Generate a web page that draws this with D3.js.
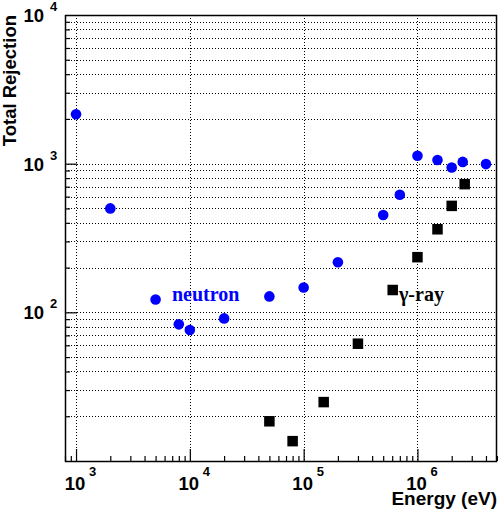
<!doctype html>
<html>
<head>
<meta charset="utf-8"/>
<title>Total Rejection vs Energy</title>
<script src="https://d3js.org/d3.v7.min.js"></script>
<style>
  body { margin: 0; background: #fff; }
  svg { display: block; }
</style>
</head>
<body>
<div id="chart"></div>
<script>
    // data
    var neutronE = [1e3, 2e3, 5e3, 8e3, 1e4, 2e4, 5e4, 1e5, 2e5, 5e5, 7e5, 1e6, 1.5e6, 2e6, 2.5e6, 4e6];
    var neutronR = [2150, 500, 122, 83, 76, 91, 128, 147, 217, 452, 618, 1130, 1058, 942, 1028, 993];
    var gammaE = [5e4, 8e4, 1.5e5, 3e5, 1e6, 1.5e6, 2e6, 2.6e6];
    var gammaR = [18.5, 13.6, 24.9, 61.5, 235, 362, 520, 728];
    var xDecades = [3, 4, 5, 6];
    var yDecades = [2, 3, 4];

    var W = 498, H = 509;
    var fLeft = 65, fTop = 15, fRight = 497, fBottom = 461;

    var svg = d3.select("#chart")
        .append("svg")
        .attr("width", W)
        .attr("height", H);

    var x = d3.scaleLog().domain([800, 5e6]).range([fLeft, fRight]);
    var y = d3.scaleLog().domain([10, 1e4]).range([fBottom, fTop]);

    // minor tick values
    var xTicks = [], yTicks = [];
    var d, k;
    for (d = 2; d <= 6; d++)
        for (k = 1; k <= 9; k++) {
            var v = k * Math.pow(10, d);
            if (v >= 800 && v <= 5e6) xTicks.push(v);
        }
    for (d = 1; d <= 3; d++)
        for (k = 1; k <= 9; k++) {
            var w = k * Math.pow(10, d);
            if (w > 10) yTicks.push(w);
        }

    function isDecade(v) {
        var l = Math.log10(v);
        return Math.abs(l - Math.round(l)) < 1e-6;
    }

    var gridStyle = function(sel) {
        sel.attr("stroke", "#000")
           .attr("stroke-width", 1)
           .attr("stroke-dasharray", "1,2")
           .attr("shape-rendering", "crispEdges");
    };

    // horizontal grid at every y tick
    svg.append("g").selectAll("line")
        .data(yTicks)
        .enter().append("line")
        .attr("x1", fLeft)
        .attr("x2", fRight)
        .attr("y1", function(v) { return Math.round(y(v)) + 0.5; })
        .attr("y2", function(v) { return Math.round(y(v)) + 0.5; })
        .call(gridStyle);

    // vertical grid at decades
    svg.append("g").selectAll("line")
        .data(xDecades)
        .enter().append("line")
        .attr("x1", function(e) { return Math.round(x(Math.pow(10, e))) + 0.5; })
        .attr("x2", function(e) { return Math.round(x(Math.pow(10, e))) + 0.5; })
        .attr("y1", fTop)
        .attr("y2", fBottom)
        .call(gridStyle);

    // axes with inward ticks
    var xAxis = d3.axisTop(x)
        .tickValues(xTicks)
        .tickSize(0)
        .tickFormat("");
    var gx = svg.append("g")
        .attr("transform", "translate(0," + fBottom + ")")
        .call(xAxis);
    gx.select(".domain").remove();
    gx.selectAll(".tick line")
        .attr("y2", function(v) { return isDecade(v) ? -12 : -5; })
        .attr("stroke", "#000")
        .attr("stroke-width", 1.2);

    var yAxis = d3.axisRight(y)
        .tickValues(yTicks)
        .tickSize(0)
        .tickFormat("");
    var gy = svg.append("g")
        .attr("transform", "translate(" + fLeft + ",0)")
        .call(yAxis);
    gy.select(".domain").remove();
    gy.selectAll(".tick line")
        .attr("x2", function(v) { return isDecade(v) ? 12 : 5; })
        .attr("stroke", "#000")
        .attr("stroke-width", 1.2);

    // frame
    svg.append("rect")
        .attr("x", fLeft + 0.5)
        .attr("y", fTop + 0.5)
        .attr("width", fRight - fLeft - 1)
        .attr("height", fBottom - fTop)
        .attr("fill", "none")
        .attr("stroke", "#000")
        .attr("stroke-width", 1.5);

    var labFont = "'Liberation Sans', Arial, sans-serif";

    // y tick labels 10^n
    yDecades.forEach(function(e) {
        var py = y(Math.pow(10, e));
        svg.append("text")
            .attr("x", 44).attr("y", py + 7)
            .attr("text-anchor", "end")
            .attr("font-family", labFont).attr("font-weight", "bold")
            .attr("font-size", 18.5)
            .text("10");
        svg.append("text")
            .attr("x", 50).attr("y", py - 4)
            .attr("font-family", labFont).attr("font-weight", "bold")
            .attr("font-size", 13)
            .text(e);
    });

    // x tick labels 10^n
    xDecades.forEach(function(e) {
        var px = x(Math.pow(10, e));
        svg.append("text")
            .attr("x", px - 1).attr("y", 490)
            .attr("text-anchor", "middle")
            .attr("font-family", labFont).attr("font-weight", "bold")
            .attr("font-size", 18.5)
            .text("10");
        svg.append("text")
            .attr("x", px + 13).attr("y", 476)
            .attr("font-family", labFont).attr("font-weight", "bold")
            .attr("font-size", 13)
            .text(e);
    });

    // axis titles
    svg.append("text")
        .attr("transform", "translate(16," + fTop + ") rotate(-90)")
        .attr("text-anchor", "end")
        .attr("font-family", labFont).attr("font-weight", "bold")
        .attr("font-size", 18.5)
        .text("Total Rejection");

    svg.append("text")
        .attr("x", 497).attr("y", 505)
        .attr("text-anchor", "end")
        .attr("font-family", labFont).attr("font-weight", "bold")
        .attr("font-size", 19)
        .text("Energy (eV)");

    // neutron points
    svg.append("g").selectAll("circle")
        .data(neutronE)
        .enter().append("circle")
        .attr("cx", function(v) { return x(v); })
        .attr("cy", function(v, i) { return y(neutronR[i]); })
        .attr("r", 5.3)
        .attr("fill", "#0000ff");

    // gamma points
    var sq = 10.5;
    svg.append("g").selectAll("rect")
        .data(gammaE)
        .enter().append("rect")
        .attr("x", function(v) { return x(v) - sq / 2; })
        .attr("y", function(v, i) { return y(gammaR[i]) - sq / 2; })
        .attr("width", sq)
        .attr("height", sq)
        .attr("fill", "#000");

    // labels
    var serif = "'Liberation Serif', 'Times New Roman', serif";
    svg.append("text")
        .attr("x", 172).attr("y", 300.5)
        .attr("font-family", serif).attr("font-weight", "bold")
        .attr("font-size", 20)
        .attr("fill", "#0000ff")
        .text("neutron");

    svg.append("rect")
        .attr("x", 392.7 - sq / 2).attr("y", 290 - sq / 2)
        .attr("width", sq).attr("height", sq)
        .attr("fill", "#000");
    svg.append("text")
        .attr("x", 399).attr("y", 300.5)
        .attr("font-family", serif).attr("font-weight", "bold")
        .attr("font-size", 20)
        .attr("fill", "#000")
        .text("γ-ray");
</script>
</body>
</html>
